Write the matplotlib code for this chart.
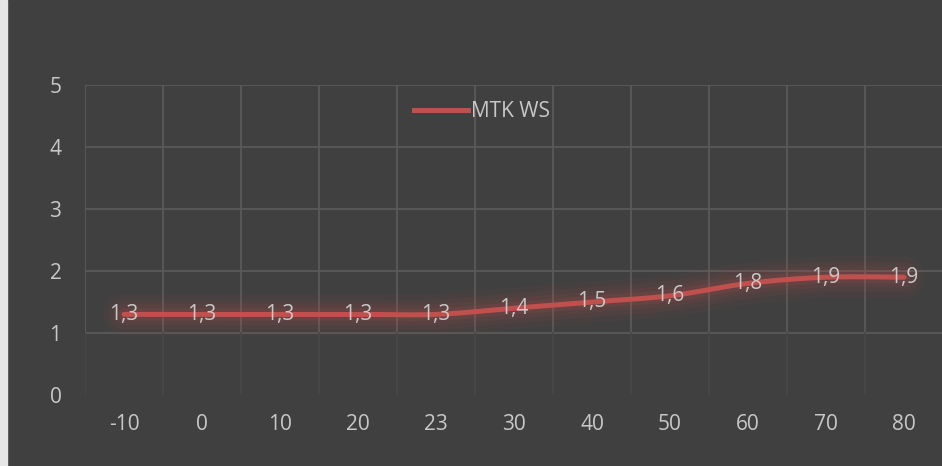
import numpy as np
import matplotlib.pyplot as plt
from matplotlib.lines import Line2D

# data
categories = ['-10', '0', '10', '20', '23', '30', '40', '50', '60', '70', '80']
values = [1.3, 1.3, 1.3, 1.3, 1.3, 1.4, 1.5, 1.6, 1.8, 1.9, 1.9]
series_name = 'MTK WS'
y_ticks = [0, 1, 2, 3, 4, 5]

bg = '#404040'
grid_col = '#5a5a5a'
text_col = '#c8c8c8'
line_col = '#c0504d'

plt.rcParams['font.family'] = ['Open Sans', 'DejaVu Sans']


def smooth(xs, ys, n=30):
    # catmull-rom style smoothing, like the spreadsheet "smoothed line"
    px, py = [], []
    xs = list(xs)
    ys = list(ys)
    X = [xs[0]] + xs + [xs[-1]]
    Y = [ys[0]] + ys + [ys[-1]]
    for i in range(1, len(X) - 2):
        t = np.linspace(0, 1, n)
        p0, p1, p2, p3 = np.array([X[i-1], Y[i-1]]), np.array([X[i], Y[i]]), np.array([X[i+1], Y[i+1]]), np.array([X[i+2], Y[i+2]])
        c1 = p1 + (p2 - p0) / 6
        c2 = p2 - (p3 - p1) / 6
        pts = ((1-t)**3)[:, None]*p1 + (3*(1-t)**2*t)[:, None]*c1 + (3*(1-t)*t**2)[:, None]*c2 + (t**3)[:, None]*p2
        px.extend(pts[:, 0])
        py.extend(pts[:, 1])
    return np.array(px), np.array(py)


fig = plt.figure(figsize=(9.42, 4.66), dpi=100, facecolor=bg)
ax = fig.add_axes([85/942, 1 - 395/466, 858/942, 310/466])
ax.set_facecolor(bg)

n = len(categories)
x = np.arange(n)
ax.set_xlim(-0.5, n - 0.5)
ax.set_ylim(0, 5)

# grid
for yv in y_ticks[1:]:
    ax.axhline(yv, color=grid_col, lw=1.3, zorder=1)
for k in range(n + 1):
    ax.plot([k - 0.5, k - 0.5], [1, 5], color=grid_col, lw=1.3, zorder=1)
    ax.plot([k - 0.5, k - 0.5], [0, 1], color='#474747', lw=1.3, zorder=1)

sx, sy = smooth(x, values)
# glow
for w, a in [(30, 0.05), (22, 0.07), (15, 0.09), (9, 0.12)]:
    ax.plot(sx, sy, color=line_col, lw=w, alpha=a, solid_capstyle='round', zorder=2)
ax.plot(sx, sy, color=line_col, lw=3.6, solid_capstyle='round', zorder=3)

for xi, v in zip(x, values):
    ax.text(xi, v, f'{v:.1f}'.replace('.', ','), color=text_col, fontsize=15,
            ha='center', va='center', zorder=4)

ax.set_xticks(x)
ax.set_xticklabels(categories)
ax.set_yticks(y_ticks)
ax.tick_params(colors=text_col, labelsize=15, length=0)
ax.tick_params(axis='x', pad=14)
ax.tick_params(axis='y', pad=17)
for s in ax.spines.values():
    s.set_visible(False)

handle = Line2D([], [], color=line_col, lw=3.6)
leg = ax.legend([handle], [series_name], loc='center', bbox_to_anchor=(0.463, 0.913),
                frameon=False, fontsize=15, handlelength=2.6, handletextpad=0.15)
for t in leg.get_texts():
    t.set_color(text_col)

# light strip on the left edge
fig.patches.append(plt.Rectangle((0, 0), 7/942, 1, transform=fig.transFigure,
                                 color='#e6e6e6', zorder=0))

fig.savefig('out.png', dpi=100, facecolor=bg)
